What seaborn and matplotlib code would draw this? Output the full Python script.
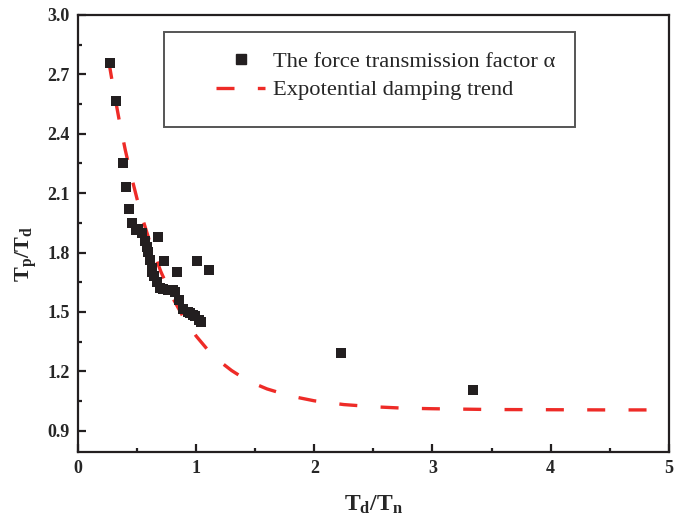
import matplotlib
matplotlib.use("Agg")
import matplotlib.pyplot as plt
import seaborn as sns
import pandas as pd
from matplotlib.patches import Rectangle
from matplotlib.lines import Line2D
from matplotlib.ticker import MultipleLocator, FixedLocator

# ---- data ----
ratio_td_tn = [0.27, 0.32, 0.378, 0.404, 0.432, 0.457, 0.489, 0.51, 0.539, 0.567,
               0.58, 0.595, 0.61, 0.624, 0.63, 0.646, 0.67, 0.694, 0.72, 0.765,
               0.80, 0.821, 0.858, 0.892, 0.93, 0.948, 0.97, 0.991, 1.02, 1.041,
               0.68, 0.726, 0.836, 1.005, 1.107, 2.227, 3.342]
ratio_tp_td = [2.759, 2.564, 2.254, 2.133, 2.021, 1.951, 1.915, 1.92, 1.901, 1.856,
               1.83, 1.805, 1.763, 1.721, 1.70, 1.679, 1.65, 1.62, 1.615, 1.612,
               1.61, 1.603, 1.561, 1.514, 1.50, 1.494, 1.485, 1.477, 1.46, 1.447,
               1.881, 1.755, 1.704, 1.755, 1.714, 1.292, 1.107]

trend_x = [0.26, 0.30, 0.35, 0.40, 0.45, 0.50, 0.55, 0.60, 0.70, 0.80, 0.90, 1.00,
           1.10, 1.20, 1.30, 1.40, 1.50, 1.60, 1.80, 2.00, 2.25, 2.50, 2.75, 3.00,
           3.50, 4.00, 4.50, 5.00]
trend_y = [2.767, 2.626, 2.464, 2.318, 2.188, 2.070, 1.964, 1.868, 1.705, 1.572,
           1.465, 1.378, 1.307, 1.250, 1.204, 1.166, 1.136, 1.111, 1.075, 1.051,
           1.032, 1.021, 1.014, 1.011, 1.007, 1.006, 1.005, 1.005]

x_ticks = [0, 1, 2, 3, 4, 5]
y_ticks = [0.9, 1.2, 1.5, 1.8, 2.1, 2.4, 2.7, 3.0]
label_points = "The force transmission factor \u03b1"
label_trend = "Expotential damping trend"

# ---- style ----
sns.set_style("ticks")
plt.rcParams["font.family"] = ["Liberation Serif", "DejaVu Serif"]
plt.rcParams["mathtext.fontset"] = "custom"
plt.rcParams["mathtext.rm"] = "Liberation Serif"
plt.rcParams["mathtext.it"] = "Liberation Serif:italic"
plt.rcParams["mathtext.bf"] = "Liberation Serif:bold"

RED = "#EE2B27"
BLACK = "#231F20"
DASH = (5.4, 7.0)

fig = plt.figure(figsize=(6.75, 5.24), dpi=100)
ax = fig.add_axes([0.1156, 0.138, 0.8751, 0.8334])

df_pts = pd.DataFrame({"x": ratio_td_tn, "y": ratio_tp_td})
df_trend = pd.DataFrame({"x": trend_x, "y": trend_y})

sns.lineplot(data=df_trend, x="x", y="y", ax=ax, color=RED, lw=2.4, zorder=2)
trend_line = ax.lines[-1]
trend_line.set_dashes(DASH)
trend_line.set_dash_capstyle("butt")

sns.scatterplot(data=df_pts, x="x", y="y", ax=ax, marker="s", s=58,
                color=BLACK, linewidth=0, zorder=3)

ax.set_xlim(0, 5)
ax.set_ylim(0.794, 3.0)
ax.xaxis.set_major_locator(FixedLocator(x_ticks))
ax.xaxis.set_minor_locator(MultipleLocator(0.5))
ax.yaxis.set_major_locator(FixedLocator(y_ticks))
ax.yaxis.set_minor_locator(MultipleLocator(0.15))
ax.set_xticklabels([str(v) for v in x_ticks])
ax.set_yticklabels([f"{v:.1f}" for v in y_ticks])

for sp in ax.spines.values():
    sp.set_visible(True)
    sp.set_linewidth(1.6)
    sp.set_color("#231F20")

ax.tick_params(which="both", direction="in", top=False, right=False, width=1.6,
               color="#231F20")
ax.tick_params(which="major", length=5.5, labelsize=13, pad=6)
ax.tick_params(which="minor", length=3)
for lab in ax.get_xticklabels() + ax.get_yticklabels():
    lab.set_fontweight("bold")

ax.set_xlabel(r"$\mathbf{T_d/T_n}$", fontsize=17, labelpad=12)
ax.set_ylabel(r"$\mathbf{T_p/T_d}$", fontsize=16)
ax.yaxis.set_label_coords(-0.066, 0.453)

# legend box
ax.add_patch(Rectangle((0.1456, 0.744), 0.6954, 0.2175, transform=ax.transAxes,
                       fill=False, edgecolor="#555555", lw=1.4, zorder=4))
handles = [Line2D([], [], marker="s", ls="none", color=BLACK, markersize=7.5),
           Line2D([], [], color=RED, lw=2.4, dashes=DASH, dash_capstyle="butt")]
leg = ax.legend(handles, [label_points, label_trend], loc="upper left",
                bbox_to_anchor=(0.2336, 0.918), frameon=False, fontsize=16.2,
                handlelength=2.18, handletextpad=0.36, borderpad=0,
                borderaxespad=0, labelspacing=0.36)

fig.savefig("out.png", dpi=100)
